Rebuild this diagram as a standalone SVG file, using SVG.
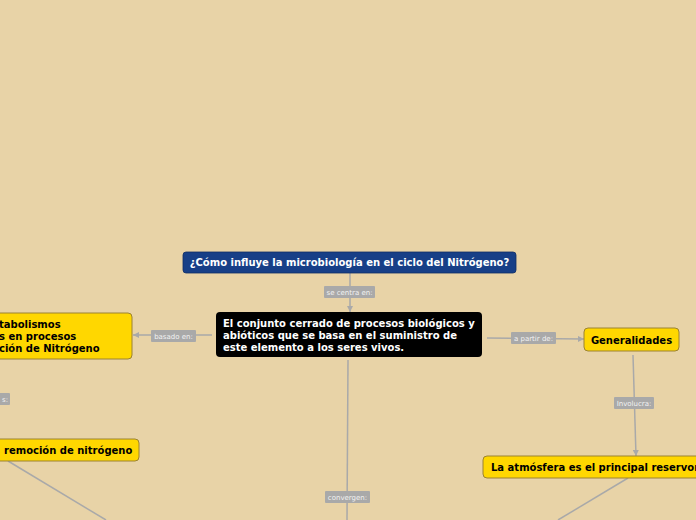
<svg xmlns="http://www.w3.org/2000/svg" width="696" height="520" viewBox="0 0 696 520">
<defs>
<style>
.bg{fill:#e8d3a7}
.conn{stroke:#a9a9a9;stroke-width:1.5;fill:none}
.lbl rect{fill:#a9a9a9}
.lbl text{fill:#f2f2f2;font-family:"DejaVu Sans",Verdana,sans-serif;font-size:7px;text-anchor:middle}
.yel{fill:#ffd700;stroke:#9b8232;stroke-width:1}
.t{font-family:"DejaVu Sans",Verdana,sans-serif;font-weight:bold;font-size:10px}
.tb{fill:#000}
.tw{fill:#fff}
</style>
<marker id="arr" viewBox="0 0 10 10" refX="10" refY="5" markerWidth="6" markerHeight="6" orient="auto" markerUnits="userSpaceOnUse">
<path d="M0,0 L10,5 L0,10 z" fill="#a9a9a9"/>
</marker>
</defs>
<rect class="bg" x="0" y="0" width="696" height="520"/>
<g id="connectors">
<line class="conn" x1="350" y1="273" x2="350" y2="312" marker-end="url(#arr)"/>
<line class="conn" x1="212" y1="335" x2="133" y2="335" marker-end="url(#arr)"/>
<line class="conn" x1="487" y1="338" x2="584" y2="339" marker-end="url(#arr)"/>
<line class="conn" x1="633" y1="355" x2="636" y2="456" marker-end="url(#arr)"/>
<line class="conn" x1="348" y1="360" x2="347" y2="520"/>
<line class="conn" x1="8" y1="461" x2="106" y2="520"/>
<line class="conn" x1="628" y1="478" x2="558" y2="520"/>
<g class="lbl"><rect x="324" y="286" width="51" height="12" rx="1"/><text x="349.5" y="295">se centra en:</text></g>
<g class="lbl"><rect x="151" y="330" width="45" height="12" rx="1"/><text x="173.5" y="339">basado en:</text></g>
<g class="lbl"><rect x="511" y="332" width="45" height="12" rx="1"/><text x="533.5" y="341">a partir de:</text></g>
<g class="lbl"><rect x="614" y="397" width="40" height="12" rx="1"/><text x="634" y="406">Involucra:</text></g>
<g class="lbl"><rect x="325" y="491" width="45" height="12" rx="1"/><text x="347.5" y="500">convergen:</text></g>
<g class="lbl"><rect x="-20" y="393" width="30" height="12" rx="1"/><text x="8" y="402" style="text-anchor:end">s:</text></g>
</g>
<g id="node-question">
<rect x="183" y="252" width="333" height="21" rx="3" fill="#173f87" stroke="#0f2d66" stroke-width="0.8"/>
<text class="t tw" x="349.5" y="266" text-anchor="middle">¿Cómo influye la microbiología en el ciclo del Nitrógeno?</text>
</g>
<g id="node-central">
<rect x="216" y="312" width="266" height="45" rx="4" fill="#000"/>
<text class="t tw" x="223"><tspan x="223" y="327">El conjunto cerrado de procesos biológicos y</tspan><tspan x="223" y="339">abióticos que se basa en el suministro de</tspan><tspan x="223" y="351">este elemento a los seres vivos.</tspan></text>
</g>
<g id="node-metabolismos">
<rect x="-20" y="313" width="152" height="46" rx="4" class="yel"/>
<text class="t tb"><tspan x="-1" y="328">tabolismos</tspan><tspan x="-1" y="340">s en procesos</tspan><tspan x="-1" y="352">ción de Nitrógeno</tspan></text>
</g>
<g id="node-remocion">
<rect x="-20" y="439" width="159" height="22" rx="4" class="yel"/>
<text class="t tb" x="4" y="454">remoción de nitrógeno</text>
</g>
<g id="node-generalidades">
<rect x="584" y="328" width="95" height="23" rx="4" class="yel"/>
<text class="t tb" x="631.5" y="344" text-anchor="middle">Generalidades</text>
</g>
<g id="node-atmosfera">
<rect x="483" y="456" width="230" height="22" rx="4" class="yel"/>
<text class="t tb" x="491" y="471">La atmósfera es el principal reservor</text>
</g>
</svg>
